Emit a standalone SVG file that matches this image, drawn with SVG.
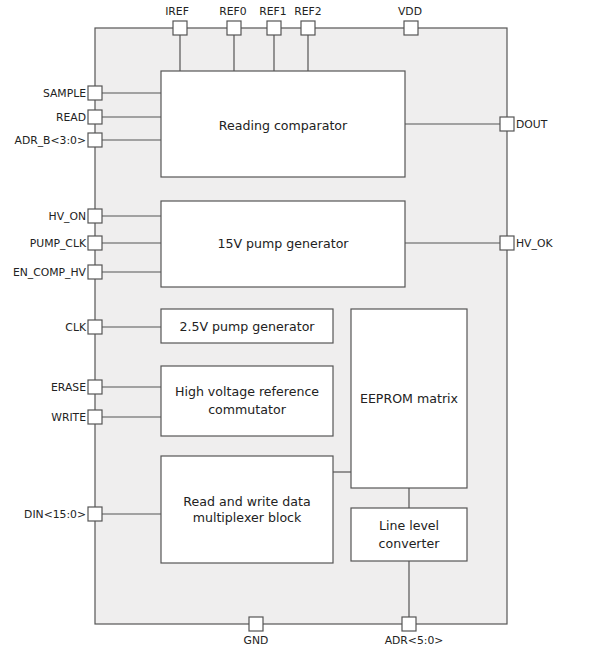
<svg xmlns="http://www.w3.org/2000/svg" width="600" height="662" viewBox="0 0 600 662">
<style>
.chip{fill:#efeeee;stroke:#555;stroke-width:1.2}
.blk{fill:#fff;stroke:#555;stroke-width:1.2}
.pin{fill:#fff;stroke:#555;stroke-width:1.2}
.w{stroke:#555;stroke-width:1.2;fill:none}
.lbl{font-family:"DejaVu Sans",sans-serif;font-size:10.8px;fill:#222}
.t{font-family:"DejaVu Sans",sans-serif;font-size:12.6px;fill:#222;text-anchor:middle}
.r{text-anchor:end}
.m{text-anchor:middle}
</style>
<rect width="600" height="662" fill="#fff"/>
<g id="chip"><rect class="chip" x="95" y="28" width="412" height="596"/></g>
<g id="connectors">
<path class="w" d="M180 28V71M234 28V71M274 28V71M308 28V71"/>
<path class="w" d="M95 93H161M95 117H161M95 140H161"/>
<path class="w" d="M405 124H507"/>
<path class="w" d="M95 216H161M95 243H161M95 272H161"/>
<path class="w" d="M405 243H507"/>
<path class="w" d="M95 327H161"/>
<path class="w" d="M95 387H161M95 417H161"/>
<path class="w" d="M95 514H161"/>
<path class="w" d="M333 472H351"/>
<path class="w" d="M409 488V508M409 561V624"/>
</g>
<g id="reading_comparator"><rect class="blk" x="161" y="71" width="244" height="106"/><text class="t" x="283" y="130">Reading comparator</text></g>
<g id="pump15"><rect class="blk" x="161" y="201" width="244" height="86"/><text class="t" x="283" y="248">15V pump generator</text></g>
<g id="pump25"><rect class="blk" x="161" y="309" width="172" height="34"/><text class="t" x="247" y="331">2.5V pump generator</text></g>
<g id="hvref"><rect class="blk" x="161" y="366" width="172" height="70"/><text class="t" x="247" y="396">High voltage reference</text><text class="t" x="247" y="414">commutator</text></g>
<g id="rwmux"><rect class="blk" x="161" y="456" width="172" height="107"/><text class="t" x="247" y="506">Read and write data</text><text class="t" x="247" y="522">multiplexer block</text></g>
<g id="eeprom"><rect class="blk" x="351" y="309" width="116" height="179"/><text class="t" x="409" y="403">EEPROM matrix</text></g>
<g id="llc"><rect class="blk" x="351" y="508" width="116" height="53"/><text class="t" x="409" y="530">Line level</text><text class="t" x="409" y="548">converter</text></g>
<g id="pins">
<rect class="pin" x="173" y="21" width="14" height="14"/>
<rect class="pin" x="227" y="21" width="14" height="14"/>
<rect class="pin" x="267" y="21" width="14" height="14"/>
<rect class="pin" x="301" y="21" width="14" height="14"/>
<rect class="pin" x="404" y="21" width="14" height="14"/>
<rect class="pin" x="88" y="86" width="14" height="14"/>
<rect class="pin" x="88" y="110" width="14" height="14"/>
<rect class="pin" x="88" y="133" width="14" height="14"/>
<rect class="pin" x="88" y="209" width="14" height="14"/>
<rect class="pin" x="88" y="236" width="14" height="14"/>
<rect class="pin" x="88" y="265" width="14" height="14"/>
<rect class="pin" x="88" y="320" width="14" height="14"/>
<rect class="pin" x="88" y="380" width="14" height="14"/>
<rect class="pin" x="88" y="410" width="14" height="14"/>
<rect class="pin" x="88" y="507" width="14" height="14"/>
<rect class="pin" x="500" y="117" width="14" height="14"/>
<rect class="pin" x="500" y="236" width="14" height="14"/>
<rect class="pin" x="249" y="617" width="14" height="14"/>
<rect class="pin" x="402" y="617" width="14" height="14"/>
</g>
<g id="labels">
<text class="lbl m" x="177" y="15">IREF</text>
<text class="lbl m" x="233" y="15">REF0</text>
<text class="lbl m" x="273" y="15">REF1</text>
<text class="lbl m" x="308" y="15">REF2</text>
<text class="lbl m" x="410" y="15">VDD</text>
<text class="lbl r" x="86" y="97">SAMPLE</text>
<text class="lbl r" x="86" y="121">READ</text>
<text class="lbl r" x="86" y="144">ADR_B&lt;3:0&gt;</text>
<text class="lbl r" x="86" y="220">HV_ON</text>
<text class="lbl r" x="86" y="247">PUMP_CLK</text>
<text class="lbl r" x="86" y="276">EN_COMP_HV</text>
<text class="lbl r" x="86" y="331">CLK</text>
<text class="lbl r" x="86" y="391">ERASE</text>
<text class="lbl r" x="86" y="421">WRITE</text>
<text class="lbl r" x="86" y="518">DIN&lt;15:0&gt;</text>
<text class="lbl" x="516" y="128">DOUT</text>
<text class="lbl" x="516" y="247">HV_OK</text>
<text class="lbl m" x="256" y="644">GND</text>
<text class="lbl m" x="414" y="644">ADR&lt;5:0&gt;</text>
</g>
</svg>
